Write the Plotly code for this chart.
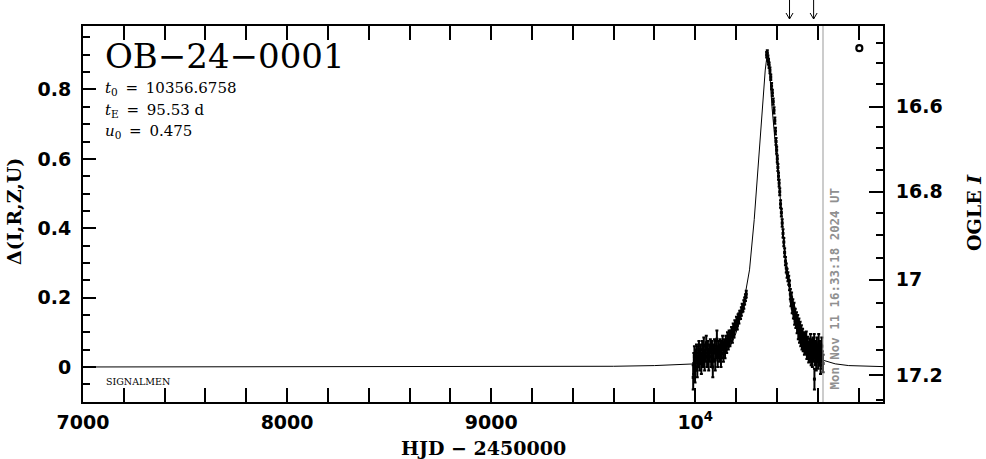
import plotly.graph_objects as go

# ---------------- data ----------------
# season 1 (rising part)
tA = [9990, 9993, 9996, 9999, 10003, 10006, 10010, 10014, 10018, 10022,
      10026, 10030, 10034, 10038, 10042, 10046, 10050, 10054, 10058, 10062,
      10066, 10070, 10074, 10078, 10082, 10086, 10090, 10094, 10098, 10102,
      10106, 10110, 10114, 10118, 10122, 10126, 10130, 10134, 10138, 10142,
      10146, 10150, 10154, 10158, 10162, 10166, 10170, 10174, 10178, 10182,
      10186, 10190, 10194, 10198, 10202, 10206, 10210, 10214, 10218, 10222,
      10226, 10230, 10234, 10238, 10242, 10246, 10250]
dA = [-0.03, 0.01, 0.03, -0.01, 0.02, 0.04, 0.00, 0.03, 0.05, 0.02,
      0.04, 0.01, 0.05, 0.03, 0.06, 0.02, 0.04, 0.07, 0.03, 0.05,
      0.02, 0.04, 0.06, 0.03, 0.05, 0.00, 0.04, 0.06, 0.02, 0.05,
      0.08, 0.03, 0.05, 0.04, 0.06, 0.03, 0.05, 0.07, 0.04, 0.06,
      0.05, 0.07, 0.06, 0.08, 0.07, 0.09, 0.08, 0.09, 0.10, 0.09,
      0.11, 0.10, 0.12, 0.12, 0.13, 0.12, 0.14, 0.14, 0.15, 0.15,
      0.16, 0.17, 0.17, 0.18, 0.19, 0.20, 0.21]
eA = [0.035, 0.03, 0.03, 0.035, 0.03, 0.025, 0.03, 0.03, 0.025, 0.03,
      0.025, 0.03, 0.025, 0.03, 0.025, 0.03, 0.025, 0.02, 0.03, 0.025,
      0.03, 0.025, 0.02, 0.03, 0.025, 0.03, 0.025, 0.02, 0.03, 0.025,
      0.025, 0.03, 0.025, 0.025, 0.02, 0.03, 0.025, 0.02, 0.025, 0.02,
      0.025, 0.02, 0.02, 0.02, 0.02, 0.015, 0.02, 0.015, 0.015, 0.02,
      0.015, 0.015, 0.015, 0.012, 0.015, 0.012, 0.012, 0.015, 0.012, 0.012,
      0.012, 0.012, 0.01, 0.012, 0.01, 0.01, 0.01]

# season 2 (peak and decline)
tB = [10350, 10353, 10356, 10359, 10362, 10366, 10370, 10374, 10378, 10382,
      10386, 10390, 10393, 10396, 10399, 10402, 10405, 10408, 10411, 10414,
      10418, 10422, 10426, 10430, 10434, 10438, 10442, 10446, 10450, 10454,
      10458, 10462]
dB = [0.90, 0.905, 0.89, 0.88, 0.87, 0.855, 0.835, 0.81, 0.79, 0.765,
      0.74, 0.71, 0.68, 0.65, 0.625, 0.60, 0.575, 0.55, 0.53, 0.505,
      0.47, 0.445, 0.415, 0.385, 0.36, 0.33, 0.305, 0.285, 0.27, 0.26,
      0.25, 0.235]
eB = [0.008, 0.008, 0.008, 0.008, 0.008, 0.008, 0.008, 0.009, 0.009, 0.009,
      0.009, 0.009, 0.01, 0.01, 0.01, 0.01, 0.01, 0.01, 0.01, 0.01,
      0.011, 0.011, 0.011, 0.012, 0.012, 0.012, 0.012, 0.013, 0.013, 0.013,
      0.013, 0.014]

tC = [10466, 10469, 10472, 10475, 10478, 10481, 10484, 10487, 10490, 10493,
      10496, 10499, 10502, 10505, 10508, 10511, 10514, 10517, 10520, 10523,
      10526, 10529, 10532, 10535, 10538, 10541, 10544, 10547, 10550, 10553,
      10556, 10559, 10562, 10565, 10568, 10571, 10574, 10577, 10580, 10583,
      10584, 10587, 10590, 10593, 10596, 10599, 10602, 10605, 10608, 10611,
      10614, 10617, 10620, 10623, 10626]
dC = [0.21, 0.19, 0.20, 0.17, 0.18, 0.155, 0.17, 0.14, 0.15, 0.13,
      0.14, 0.115, 0.13, 0.10, 0.12, 0.09, 0.11, 0.08, 0.10, 0.07,
      0.09, 0.065, 0.08, 0.055, 0.075, 0.06, 0.08, 0.045, 0.065, 0.05,
      0.035, 0.06, 0.04, 0.07, 0.03, 0.055, 0.025, 0.06, 0.04, 0.07,
      -0.035, 0.03, 0.05, 0.015, 0.06, 0.04, 0.02, 0.07, 0.03, 0.05,
      0.005, 0.04, 0.06, 0.02, 0.01]
eC = [0.015, 0.015, 0.015, 0.015, 0.015, 0.015, 0.015, 0.018, 0.018, 0.018,
      0.018, 0.018, 0.02, 0.02, 0.02, 0.02, 0.02, 0.02, 0.02, 0.02,
      0.02, 0.02, 0.02, 0.02, 0.022, 0.022, 0.022, 0.022, 0.022, 0.022,
      0.022, 0.022, 0.025, 0.025, 0.025, 0.025, 0.025, 0.025, 0.025, 0.025,
      0.03, 0.025, 0.025, 0.025, 0.025, 0.025, 0.025, 0.025, 0.025, 0.025,
      0.025, 0.025, 0.025, 0.025, 0.025]

# model curve
model_hjd = [7000, 8000, 9000, 9600, 9800, 9926, 10000, 10090, 10140, 10172,
             10195, 10212, 10230, 10245, 10266, 10289, 10310, 10332, 10343, 10354,
             10364, 10376, 10397, 10412, 10425, 10438, 10453, 10466, 10485, 10502,
             10520, 10542, 10580, 10629, 10686, 10752, 10850, 10920]
model_delta = [0.0, 0.0, 0.001, 0.002, 0.004, 0.006, 0.009, 0.022, 0.038, 0.06,
               0.09, 0.12, 0.16, 0.21, 0.28, 0.425, 0.59, 0.75, 0.856, 0.908,
               0.86, 0.75, 0.62, 0.528, 0.432, 0.335, 0.258, 0.21, 0.16, 0.12,
               0.085, 0.055, 0.033, 0.019, 0.009, 0.004, 0.002, 0.001]

# axis ticks
x_tick_vals = [7000, 8000, 9000, 10000]
x_tick_text = ["7000", "8000", "9000", "10<sup>4</sup>"]
y_tick_vals = [0, 0.2, 0.4, 0.6, 0.8]
y_tick_text = ["0", "0.2", "0.4", "0.6", "0.8"]
mag_labels = ["16.6", "16.8", "17", "17.2"]
mag_major_pos = [0.750, 0.505, 0.252, -0.024]
mag_minor_pos = [0.933, 0.875, 0.815, 0.692, 0.632, 0.569, 0.444, 0.380,
                 0.314, 0.183, 0.115, 0.048, -0.096]

arrow_hjd = [10462, 10580]
now_hjd = 10626
circle_hjd = [10804]
circle_delta = [0.919]

event_name = "OB\u221224\u22120001"
param_lines = ["<i>t</i><sub>0</sub>\u2009 = \u200910356.6758",
               "<i>t</i><sub>E</sub>\u2009 = \u200995.53 d",
               "<i>u</i><sub>0</sub>\u2009 = \u20090.475"]
date_text = "Mon Nov 11 16:33:18 2024 UT"

# ---------------- figure ----------------
L, R, T, B = 83, 103, 26, 57
PW, PH = 800, 376
W, H = L + PW + R, T + PH + B


def px(xs):  # screen x -> paper
    return (xs - L) / PW


def py(ys):  # screen y -> paper
    return (T + PH - ys) / PH


fig = go.Figure()

fig.add_trace(go.Scatter(x=model_hjd, y=model_delta, mode="lines",
                         line=dict(color="black", width=1), hoverinfo="skip"))

for t, d, e in [(tA, dA, eA), (tB, dB, eB), (tC, dC, eC)]:
    fig.add_trace(go.Scatter(
        x=t, y=d, mode="markers",
        marker=dict(color="black", size=3, symbol="square"),
        error_y=dict(type="data", array=e, visible=True, color="black",
                     thickness=2, width=1.5)))

fig.add_trace(go.Scatter(x=circle_hjd, y=circle_delta, mode="markers",
                         marker=dict(symbol="circle-open", size=6, color="black",
                                     line=dict(width=2.2, color="black"))))

# invisible trace for the right axis
fig.add_trace(go.Scatter(x=[7000], y=[0], yaxis="y2", mode="markers",
                         marker=dict(opacity=0), hoverinfo="skip"))

tickfont = dict(family="DejaVu Sans", size=19, weight="bold", color="black")
minor_common = dict(ticks="inside", ticklen=7, tickwidth=2, tickcolor="black", showgrid=False)

fig.update_layout(
    width=W, height=H, margin=dict(l=L, r=R, t=T, b=B, autoexpand=False),
    paper_bgcolor="white", plot_bgcolor="white", showlegend=False,
    xaxis=dict(range=[7000, 10920], tickmode="array", tickvals=x_tick_vals,
               ticktext=x_tick_text, ticks="inside", ticklen=14, tickwidth=2,
               tickcolor="black", minor=dict(dtick=200, tick0=7000, **minor_common),
               showline=True, linewidth=2, linecolor="black", mirror="allticks",
               showgrid=False, zeroline=False, tickfont=tickfont,
               ticklabelstandoff=2),
    yaxis=dict(range=[-0.101, 0.983], tickmode="array", tickvals=y_tick_vals,
               ticktext=y_tick_text, ticks="inside", ticklen=13, tickwidth=2,
               tickcolor="black", minor=dict(dtick=0.05, tick0=0, **minor_common),
               showline=True, linewidth=2, linecolor="black", mirror=True,
               showgrid=False, zeroline=False, tickfont=tickfont,
               ticklabelstandoff=6),
    yaxis2=dict(overlaying="y", side="right", range=[-0.101, 0.983],
                tickmode="array", tickvals=mag_major_pos, ticktext=mag_labels,
                ticks="inside", ticklen=14, tickwidth=2, tickcolor="black",
                minor=dict(tickmode="array", tickvals=mag_minor_pos, **minor_common),
                showline=True, linewidth=2, linecolor="black",
                showgrid=False, zeroline=False, tickfont=tickfont,
                ticklabelstandoff=7),
)

# current-date vertical line
fig.add_shape(type="line", xref="x", yref="paper", x0=now_hjd, x1=now_hjd,
              y0=0, y1=1, line=dict(color="#999999", width=1))

# arrows above the frame
for a in arrow_hjd:
    fig.add_shape(type="path", xref="x", yref="paper",
                  xsizemode="pixel", xanchor=a, ysizemode="pixel", yanchor=py(19),
                  path="M 0,19 L 0,0 M -3.5,6 L 0,0 L 3.5,6",
                  line=dict(color="black", width=1))

serif = "DejaVu Serif"
fig.add_annotation(x=px(103), y=py(56), xref="paper", yref="paper", text=event_name,
                   showarrow=False, xanchor="left", yanchor="middle",
                   font=dict(family=serif, size=34, color="black"))
for line, yp in zip(param_lines, [88, 110, 131]):
    fig.add_annotation(x=px(103), y=py(yp), xref="paper", yref="paper", text=line,
                       showarrow=False, xanchor="left", yanchor="middle",
                       font=dict(family=serif, size=15, color="black"))

fig.add_annotation(x=px(104), y=py(381), xref="paper", yref="paper", text="SIGNALMEN",
                   showarrow=False, xanchor="left", yanchor="middle",
                   font=dict(family=serif, size=9.5, color="black"))

fig.add_annotation(x=now_hjd, xref="x", y=py(289), yref="paper", text=date_text,
                   showarrow=False, textangle=-90, xanchor="left", yanchor="middle",
                   xshift=1,
                   font=dict(family="DejaVu Sans Mono", size=12.4, weight="bold",
                             color="#909090"))

fig.add_annotation(x=px(483), y=py(448), xref="paper", yref="paper",
                   text="HJD \u2212 2450000", showarrow=False,
                   xanchor="center", yanchor="middle",
                   font=dict(family=serif, size=19, weight="bold", color="black"))
fig.add_annotation(x=px(14), y=py(212), xref="paper", yref="paper",
                   text="\u0394(I,R,Z,U)", showarrow=False, textangle=-90,
                   xanchor="center", yanchor="middle",
                   font=dict(family=serif, size=19, weight="bold", color="black"))
fig.add_annotation(x=px(974), y=py(213), xref="paper", yref="paper",
                   text="OGLE <i>I</i>", showarrow=False, textangle=-90,
                   xanchor="center", yanchor="middle",
                   font=dict(family=serif, size=19, weight="bold", color="black"))

fig.write_html("out.html", config={"displayModeBar": False},
               post_script="document.body.style.margin='0';document.body.style.overflow='hidden';")
